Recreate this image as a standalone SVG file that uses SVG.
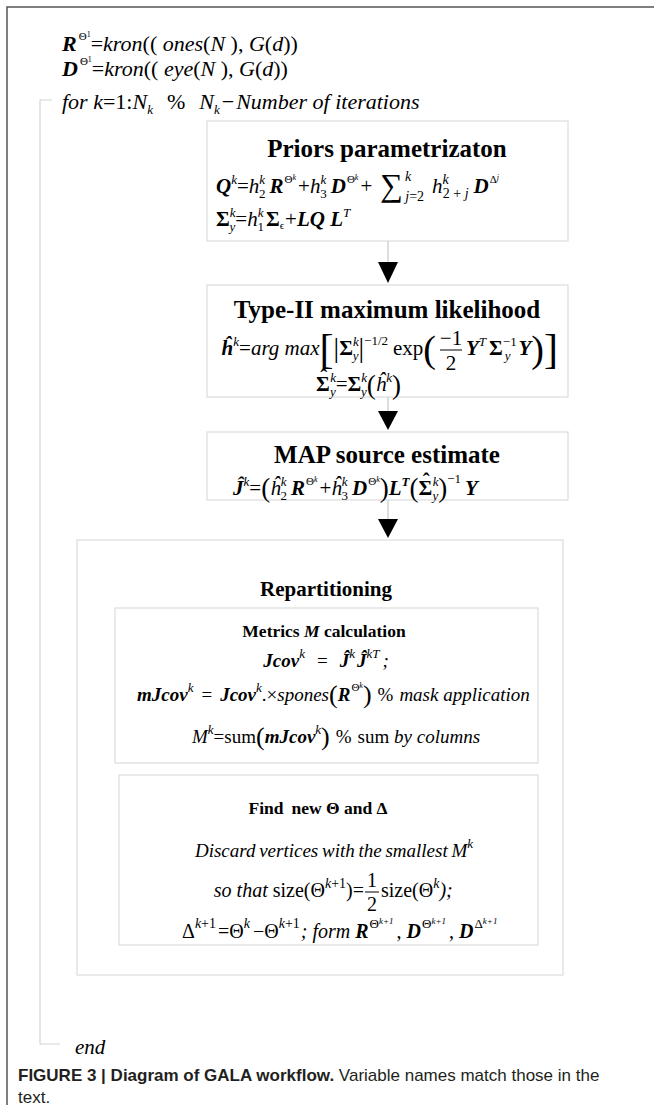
<svg xmlns="http://www.w3.org/2000/svg" width="654" height="1105" viewBox="0 0 654 1105">
<style>
.m{font-family:"Liberation Serif","Times New Roman",serif;font-size:21px;fill:#000}
.m22{font-size:22px}
.m19{font-size:19px}
.m20{font-size:20px}
.i{font-style:italic}
.n{font-style:normal}
.b{font-weight:bold}
.bi{font-weight:bold;font-style:italic}
.s{font-size:13px}
.s14{font-size:14px}
.ss{font-size:11px}
.x{font-size:8px}
.x9{font-size:9px}
.ttl{font-family:"Liberation Serif","Times New Roman",serif;font-weight:bold;font-size:25px;text-anchor:middle;fill:#000}
.st{font-family:"Liberation Serif","Times New Roman",serif;font-weight:bold;font-size:17.5px;text-anchor:middle;fill:#000}
.box{fill:#fff;stroke:#dcdcdc;stroke-width:1.2}
.shaft{stroke:#c8c8c8;stroke-width:1.2}
.head{fill:#000}
.brk{fill:none;stroke:#d4d4d4;stroke-width:1.2}
.cap{font-family:"Liberation Sans",Arial,sans-serif;font-size:17px;fill:#231f20}
.c{text-anchor:middle}
.e{text-anchor:end}
.fb{stroke:#000;stroke-width:1}
</style>
<rect width="654" height="1105" fill="#fff"/>
<path d="M7,1105 V7 H654" fill="none" stroke="#555" stroke-width="1.5"/>

<g id="init">
<text class="m m22" x="62" y="51"><tspan class="bi">R</tspan><tspan class="ss" dx="2" dy="-11">Θ</tspan><tspan class="x" dy="-3">1</tspan><tspan dy="14">=</tspan><tspan class="i">kron</tspan>(( <tspan class="i">ones</tspan>(<tspan class="i">N</tspan> ), <tspan class="i">G</tspan>(<tspan class="i">d</tspan>))</text>
<text class="m m22" x="62" y="76"><tspan class="bi">D</tspan><tspan class="ss" dx="2" dy="-11">Θ</tspan><tspan class="x" dy="-3">1</tspan><tspan dy="14">=</tspan><tspan class="i">kron</tspan>(( <tspan class="i">eye</tspan>(<tspan class="i">N</tspan> ), <tspan class="i">G</tspan>(<tspan class="i">d</tspan>))</text>
</g>

<g id="loop">
<path class="brk" d="M52,100 H40 V1044 H60"/>
<text class="m m22 i" x="62" y="109">for k<tspan class="n">=1:</tspan>N<tspan class="s" dy="5">k</tspan><tspan class="n" dx="14" dy="-5">%</tspan><tspan dx="14">N</tspan><tspan class="s" dy="5">k</tspan><tspan class="n" dx="2" dy="-5">−</tspan><tspan dx="2">Number of iterations</tspan></text>
<text class="m i" x="75" y="1054">end</text>
</g>

<g id="priors">
<rect class="box" x="207" y="121" width="361" height="120"/>
<text class="ttl" x="387" y="157">Priors parametrizaton</text>
<text class="m" x="216" y="193"><tspan class="bi">Q</tspan><tspan class="s i" dy="-9">k</tspan><tspan dy="9">=</tspan><tspan class="i">h</tspan><tspan class="s i" dy="-9">k</tspan><tspan class="s" dx="-6" dy="14">2</tspan><tspan class="bi" dx="4" dy="-5">R</tspan><tspan class="ss" dx="1" dy="-10">Θ</tspan><tspan class="x i" dy="-3">k</tspan><tspan dx="2" dy="13">+</tspan><tspan class="i">h</tspan><tspan class="s i" dy="-9">k</tspan><tspan class="s" dx="-6" dy="14">3</tspan><tspan class="bi" dx="4" dy="-5">D</tspan><tspan class="ss" dx="1" dy="-10">Θ</tspan><tspan class="x i" dy="-3">k</tspan><tspan dx="2" dy="13">+</tspan><tspan font-size="32" dx="8" dy="3">∑</tspan><tspan class="s14 i" dx="2" dy="-15">k</tspan><tspan class="s14 i" dx="-6" dy="20">j</tspan><tspan class="s14">=2</tspan><tspan class="i" dx="8" dy="-8">h</tspan><tspan class="s14 i" dy="-9">k</tspan><tspan class="s14" dx="-6" dy="14">2 + </tspan><tspan class="s14 i">j</tspan><tspan class="bi" dx="5" dy="-5">D</tspan><tspan class="ss" dx="1" dy="-10">Δ</tspan><tspan class="x i" dy="-3">j</tspan></text>
<text class="m" x="216" y="226"><tspan class="b">Σ</tspan><tspan class="s i" dy="-9">k</tspan><tspan class="s i" dx="-6" dy="14">y</tspan><tspan dy="-5">=</tspan><tspan class="i">h</tspan><tspan class="s i" dy="-9">k</tspan><tspan class="s" dx="-6" dy="14">1</tspan><tspan class="b" dx="2" dy="-5">Σ</tspan><tspan class="ss" dy="3">ϵ</tspan><tspan dx="1" dy="-3">+</tspan><tspan class="bi">LQ L</tspan><tspan class="s i" dy="-9">T</tspan></text>
</g>

<g id="typeII">
<rect class="box" x="207" y="285" width="361" height="112"/>
<text class="ttl" x="387" y="318">Type-II maximum likelihood</text>
<text class="m e" x="436" y="355"><tspan class="bi">ĥ</tspan><tspan class="s i" dy="-9">k</tspan><tspan dy="9">=</tspan><tspan class="i">arg max</tspan><tspan font-size="42" dy="8">[</tspan><tspan font-size="28" dy="-6">|</tspan><tspan class="b" dy="-2">Σ</tspan><tspan class="s i" dy="-9">k</tspan><tspan class="s i" dx="-6" dy="14">y</tspan><tspan font-size="28" dy="-3">|</tspan><tspan class="s" dy="-12">−1/2</tspan><tspan dx="5" dy="10">exp</tspan><tspan font-size="38" dy="7">(</tspan></text>
<text class="m c" x="451" y="345">−1</text>
<line class="fb" x1="440" y1="350" x2="462" y2="350"/>
<text class="m c" x="451" y="370">2</text>
<text class="m" x="466" y="355"><tspan class="bi">Y</tspan><tspan class="s i" dy="-9">T</tspan><tspan class="b" dx="3" dy="9">Σ</tspan><tspan class="s" dy="-9">−1</tspan><tspan class="s i" dx="-12" dy="14">y</tspan><tspan class="bi" dx="8" dy="-5">Y</tspan><tspan font-size="38" dy="7">)</tspan><tspan font-size="42" dy="1">]</tspan></text>
<text class="m" x="316" y="391"><tspan class="b">Σ</tspan><tspan class="b" dx="-9.6" dy="-7">ˆ</tspan><tspan class="s i" dx="3" dy="-2">k</tspan><tspan class="s i" dx="-6" dy="14">y</tspan><tspan dy="-5">=</tspan><tspan class="b">Σ</tspan><tspan class="s i" dy="-9">k</tspan><tspan class="s i" dx="-6" dy="14">y</tspan><tspan font-size="27" dy="-2">(</tspan><tspan class="i" dy="-3">ĥ</tspan><tspan class="s i" dy="-9">k</tspan><tspan font-size="27" dy="12">)</tspan></text>
</g>

<g id="map">
<rect class="box" x="207" y="432" width="361" height="68"/>
<text class="ttl" x="387" y="463">MAP source estimate</text>
<text class="m" x="233" y="495"><tspan class="bi">Ĵ</tspan><tspan class="s i" dy="-9">k</tspan><tspan dy="9">=</tspan><tspan font-size="27" dy="2">(</tspan><tspan class="i" dy="-2">ĥ</tspan><tspan class="s i" dy="-9">k</tspan><tspan class="s" dx="-6" dy="14">2</tspan><tspan class="bi" dx="4" dy="-5">R</tspan><tspan class="ss" dx="1" dy="-10">Θ</tspan><tspan class="x i" dy="-3">k</tspan><tspan dx="2" dy="13">+</tspan><tspan class="i">ĥ</tspan><tspan class="s i" dy="-9">k</tspan><tspan class="s" dx="-6" dy="14">3</tspan><tspan class="bi" dx="4" dy="-5">D</tspan><tspan class="ss" dx="1" dy="-10">Θ</tspan><tspan class="x i" dy="-3">k</tspan><tspan font-size="27" dy="15">)</tspan><tspan class="bi" dy="-2">L</tspan><tspan class="s bi" dy="-9">T</tspan><tspan font-size="27" dy="11">(</tspan><tspan class="b" dy="-2">Σ</tspan><tspan class="b" dx="-9.6" dy="-7">ˆ</tspan><tspan class="s i" dx="3" dy="-2">k</tspan><tspan class="s i" dx="-6" dy="14">y</tspan><tspan font-size="27" dy="-3">)</tspan><tspan class="s" dy="-14">−1</tspan><tspan class="bi" dx="4" dy="12">Y</tspan></text>
</g>

<g id="repartitioning">
<rect class="box" x="77" y="540" width="486" height="435"/>
<text class="ttl" x="326" y="596" style="font-size:21px">Repartitioning</text>
</g>

<g id="metrics">
<rect class="box" x="115" y="608" width="423" height="155"/>
<text class="st" x="324" y="637">Metrics <tspan class="i">M</tspan> calculation</text>
<text class="m m19 c" x="326" y="667"><tspan class="bi">Jcov</tspan><tspan class="s i" dy="-9">k</tspan><tspan dx="12" dy="9">=</tspan><tspan class="bi" dx="12">Ĵ</tspan><tspan class="s i" dy="-9">k</tspan><tspan class="bi" dx="2" dy="9">Ĵ</tspan><tspan class="s i" dy="-9">kT</tspan><tspan class="i" dx="3" dy="9">;</tspan></text>
<text class="m m19" x="137" y="701"><tspan class="bi">mJcov</tspan><tspan class="s i" dy="-9">k</tspan><tspan dx="8" dy="9">=</tspan><tspan class="bi" dx="8">Jcov</tspan><tspan class="s i" dy="-9">k</tspan><tspan dy="9">.×</tspan><tspan class="i">spones</tspan><tspan font-size="26" dy="2">(</tspan><tspan class="bi" dy="-2">R</tspan><tspan class="ss" dx="1" dy="-10">Θ</tspan><tspan class="x i" dy="-3">k</tspan><tspan font-size="26" dy="15">)</tspan><tspan dx="6" dy="-2">%</tspan><tspan class="i" dx="6">mask application</tspan></text>
<text class="m m19" x="192" y="743"><tspan class="i">M</tspan><tspan class="s i" dy="-9">k</tspan><tspan dy="9">=sum</tspan><tspan font-size="26" dy="2">(</tspan><tspan class="bi" dy="-2">mJcov</tspan><tspan class="s i" dy="-9">k</tspan><tspan font-size="26" dy="11">)</tspan><tspan dx="6" dy="-2">%</tspan><tspan dx="6">sum </tspan><tspan class="i">by columns</tspan></text>
</g>

<g id="find">
<rect class="box" x="119" y="775" width="419" height="170"/>
<text class="st" x="318" y="814">Find<tspan dx="8">new Θ and Δ</tspan></text>
<text class="m m19 i c" x="334" y="857" word-spacing="-1">Discard vertices with the smallest M<tspan class="s" dy="-9">k</tspan></text>
<text class="m m20 e" x="364" y="897"><tspan class="i">so that </tspan>size(Θ<tspan class="s14 i" dy="-9">k</tspan><tspan class="s14">+1</tspan><tspan dy="9">)=</tspan></text>
<text class="m m20 c" x="372" y="887">1</text>
<line class="fb" x1="365" y1="892" x2="379" y2="892"/>
<text class="m m20 c" x="372" y="911">2</text>
<text class="m m20" x="381" y="897">size(Θ<tspan class="s14 i" dy="-9">k</tspan><tspan class="i" dy="9">);</tspan></text>
<text class="m m20" x="182" y="938">Δ<tspan class="s14 i" dy="-10">k</tspan><tspan class="s14">+1</tspan><tspan dx="2" dy="10">=Θ</tspan><tspan class="s14 i" dy="-10">k</tspan><tspan dx="3" dy="10">−Θ</tspan><tspan class="s14 i" dy="-10">k</tspan><tspan class="s14">+1</tspan><tspan class="i" dx="1" dy="10">; form </tspan><tspan class="bi">R</tspan><tspan class="s" dx="1" dy="-10">Θ</tspan><tspan class="x9 i" dy="-4">k+1</tspan><tspan dx="3" dy="14">, </tspan><tspan class="bi">D</tspan><tspan class="s" dx="1" dy="-10">Θ</tspan><tspan class="x9 i" dy="-4">k+1</tspan><tspan dx="3" dy="14">, </tspan><tspan class="bi">D</tspan><tspan class="s" dx="1" dy="-10">Δ</tspan><tspan class="x9 i" dy="-4">k+1</tspan></text>
</g>

<g id="connectors">
<line class="shaft" x1="388" y1="241" x2="388" y2="262"/>
<polygon class="head" points="378,262 398,262 388,283"/>
<line class="shaft" x1="388" y1="397" x2="388" y2="411"/>
<polygon class="head" points="378,411 398,411 388,430"/>
<line class="shaft" x1="388" y1="500" x2="388" y2="519"/>
<polygon class="head" points="378,519 398,519 388,538"/>
</g>

<g id="caption">
<text class="cap" x="18" y="1081"><tspan font-weight="bold">FIGURE 3 | Diagram of GALA workflow.</tspan> Variable names match those in the</text>
<text class="cap" x="18" y="1103">text.</text>
</g>
</svg>
